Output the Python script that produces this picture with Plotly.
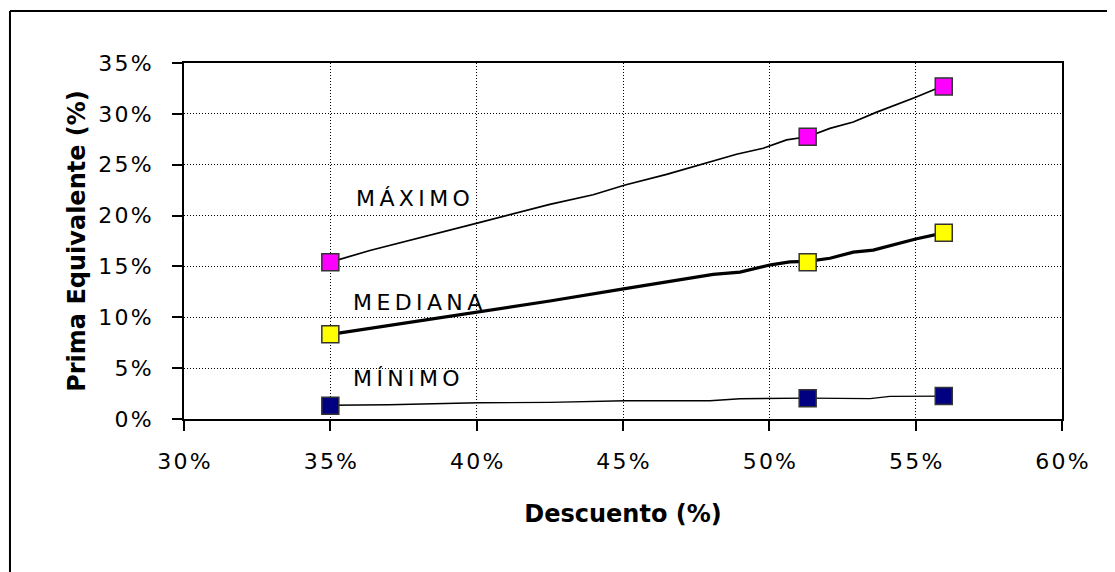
import plotly.graph_objects as go

# curve points (descuento %, prima %)
max_x = [35.0, 36.35, 40.05, 42.5, 43.98, 45.07, 46.49, 47.73, 48.88, 49.79, 50.59, 51.31, 52.07, 52.87, 53.67, 55.0, 55.72, 55.96]
max_y = [15.42, 16.57, 19.28, 21.1, 22.05, 23.01, 24.05, 25.1, 26.03, 26.62, 27.44, 27.75, 28.57, 29.2, 30.17, 31.63, 32.5, 32.7]

med_x = [35.0, 40.05, 42.5, 45.07, 46.49, 48.08, 49.0, 50.05, 50.7, 51.31, 52.07, 52.87, 53.55, 54.35, 55.0, 55.96]
med_y = [8.32, 10.53, 11.6, 12.81, 13.46, 14.21, 14.44, 15.16, 15.45, 15.5, 15.8, 16.4, 16.6, 17.2, 17.7, 18.3]

min_x = [35.0, 37.0, 40.05, 42.5, 45.07, 47.97, 49.0, 51.31, 53.44, 54.12, 55.96]
min_y = [1.35, 1.4, 1.6, 1.63, 1.8, 1.8, 1.99, 2.05, 2.0, 2.22, 2.25]

# marked points
pt_x = [35.0, 51.31, 55.96]
pt_max = [15.42, 27.75, 32.7]
pt_med = [8.32, 15.42, 18.3]
pt_min = [1.3, 2.05, 2.25]

labels = ["MÁXIMO", "MEDIANA", "MÍNIMO"]
label_x = [35.8, 35.7, 35.7]
label_y = [21.65, 11.5, 3.94]

x_ticks = [30, 35, 40, 45, 50, 55, 60]
y_ticks = [0, 5, 10, 15, 20, 25, 30, 35]

FONT = "DejaVu Sans, Arial, sans-serif"


def spaced(s, sep="\u2009"):
    return sep.join(s)


fig = go.Figure()

for xs, ys, w in [(max_x, max_y, 1.7), (med_x, med_y, 3.2), (min_x, min_y, 1.4)]:
    fig.add_trace(go.Scatter(x=xs, y=ys, mode="lines",
                             line=dict(color="black", width=w), hoverinfo="skip"))

for ys, c in [(pt_max, "#FF00FF"), (pt_med, "#FFFF00"), (pt_min, "#000080")]:
    fig.add_trace(go.Scatter(
        x=pt_x, y=ys, mode="markers",
        marker=dict(symbol="square", size=17, color=c, line=dict(color="#333333", width=1.5)),
    ))

for t, x, y in zip(labels, label_x, label_y):
    fig.add_annotation(x=x, y=y, text=spaced(t), showarrow=False,
                       xanchor="left", yanchor="middle",
                       font=dict(family=FONT, size=22, color="black"))

axis_common = dict(
    showline=True, linecolor="black", linewidth=2, mirror=True,
    ticks="outside", ticklen=10, tickwidth=2, tickcolor="black",
    showgrid=True, gridcolor="black", gridwidth=1, griddash="1px,2px",
    zeroline=False, tickmode="array",
    tickfont=dict(family=FONT, size=22, color="black"),
)

# the page has an 8px body margin, so the figure is 8px smaller than the window
fig.update_layout(
    width=1107, height=564,
    paper_bgcolor="white", plot_bgcolor="white",
    showlegend=False,
    margin=dict(l=176, r=53, t=55, b=153),
    xaxis=dict(**axis_common, range=[30, 60], tickvals=x_ticks,
               ticktext=[spaced(f"{v}%", "\u200a") for v in x_ticks],
               ticklabelstandoff=12,
               title=dict(text="Descuento (%)", standoff=32,
                          font=dict(family=FONT, size=24, color="black", weight="bold"))),
    yaxis=dict(**axis_common, range=[0, 35], tickvals=y_ticks,
               ticktext=[spaced(f"{v}%", "\u200a") for v in y_ticks],
               ticklabelstandoff=16,
               title=dict(text="Prima Equivalente (%)", standoff=6,
                          font=dict(family=FONT, size=24, color="black", weight="bold"))),
    shapes=[
        dict(type="line", xref="paper", yref="paper", x0=-0.1982, x1=1.3, y0=1.146, y1=1.146,
             line=dict(color="black", width=2)),
        dict(type="line", xref="paper", yref="paper", x0=-0.1982, x1=-0.1982, y0=1.146, y1=-0.6,
             line=dict(color="black", width=2)),
    ],
)

fig.write_html("out.html")
